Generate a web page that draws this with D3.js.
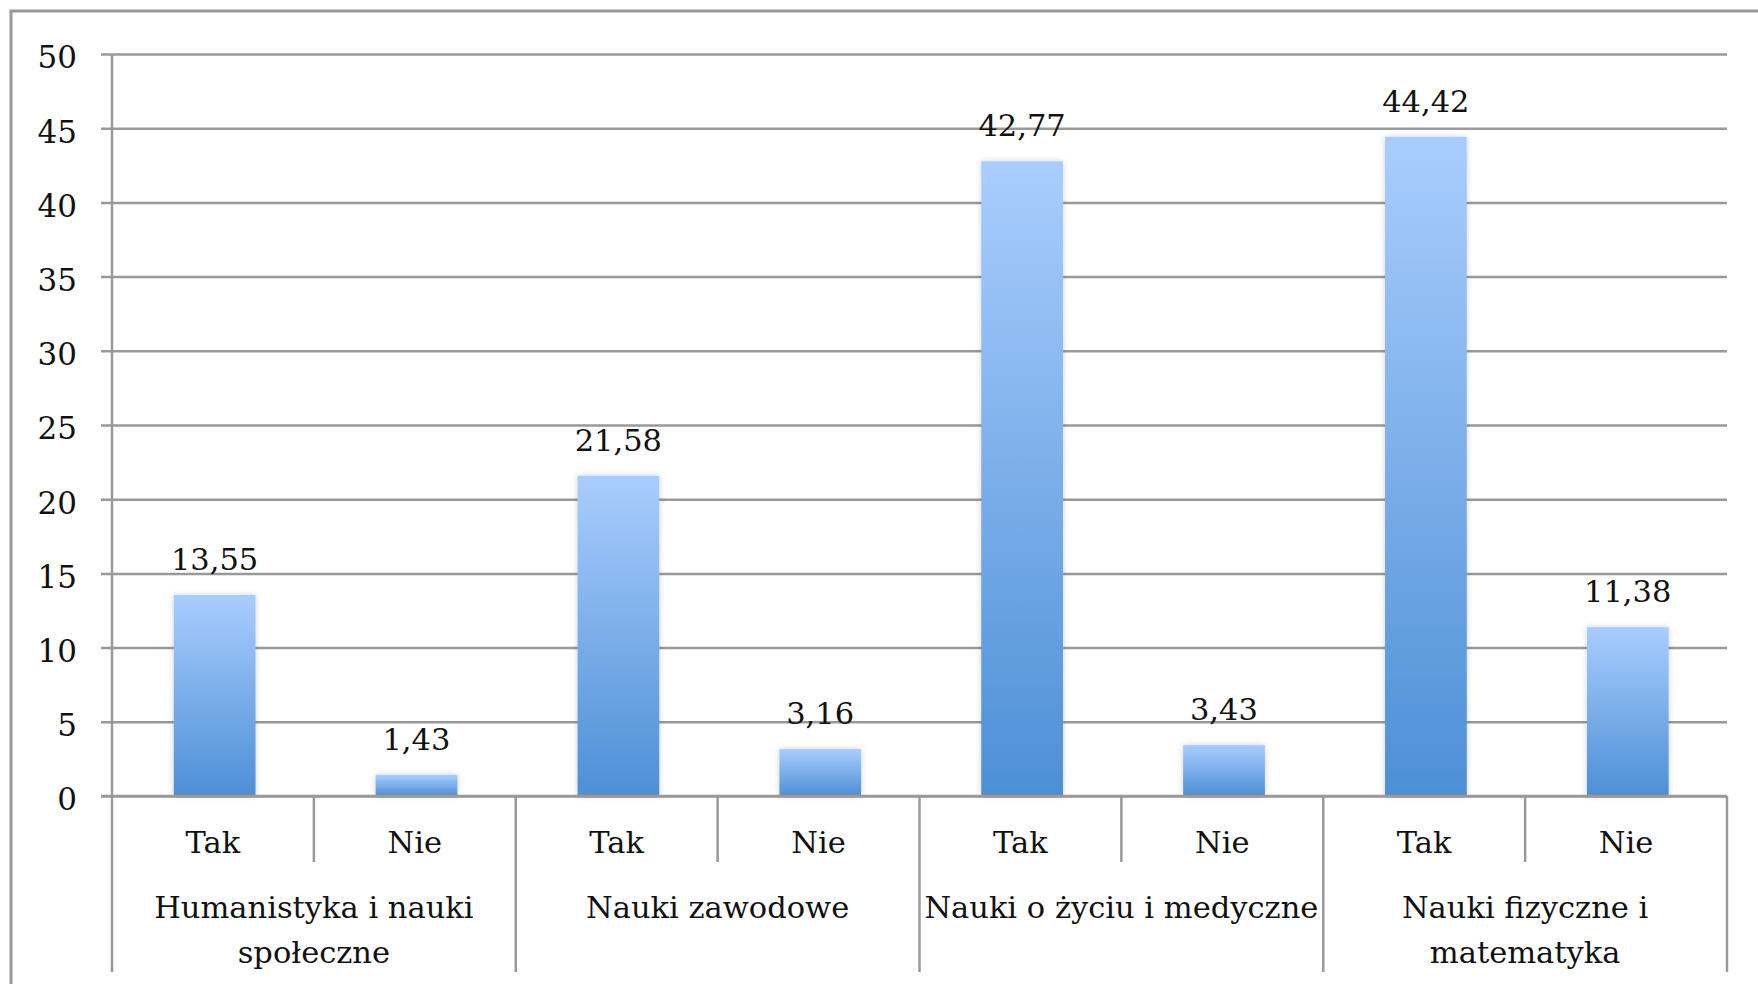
<!DOCTYPE html>
<html>
<head>
<meta charset="utf-8">
<script src="https://cdn.jsdelivr.net/npm/d3@7"></script>
<style>
    html, body { margin: 0; padding: 0; background: #fff; overflow: hidden; }
    .chart { width: 1758px; height: 984px; }
    text { font-family: 'DejaVu Serif', serif; fill: #111; }
</style>
</head>
<body>
<div class="chart"></div>
<script>
/* adatok */
const groupNames = ['Humanistyka i nauki społeczne', 'Nauki zawodowe', 'Nauki o życiu i medyczne', 'Nauki fizyczne i matematyka'];
const groupLines = [['Humanistyka i nauki', 'społeczne'], ['Nauki zawodowe'], ['Nauki o życiu i medyczne'], ['Nauki fizyczne i', 'matematyka']];
const answers = ['Tak', 'Nie'];
const takValues = [13.55, 21.58, 42.77, 44.42];
const nieValues = [1.43, 3.16, 3.43, 11.38];
const yTickValues = [0, 5, 10, 15, 20, 25, 30, 35, 40, 45, 50];

(function () {
    'use strict';

    const W = 1758, H = 984;
    const plotLeft = 112, plotRight = 1727, plotTop = 54, plotBottom = 796;
    const gridColor = '#999';
    const fontSize = 30.5;

    const svg = d3.select('.chart').append('svg')
        .attr('width', W)
        .attr('height', H);

    /* sorok: csoport + válasz */
    const rows = [];
    groupNames.forEach(function (g, i) {
        rows.push({ group: i, answer: answers[0], value: takValues[i], key: g + '|' + answers[0] });
        rows.push({ group: i, answer: answers[1], value: nieValues[i], key: g + '|' + answers[1] });
    });

    const x = d3.scaleBand().domain(rows.map(function (d) { return d.key; }))
        .range([plotLeft, plotRight]).padding(0);
    const xGroup = d3.scaleBand().domain(groupNames).range([plotLeft, plotRight]).padding(0);
    const y = d3.scaleLinear().domain([0, 50]).range([plotBottom, plotTop]);
    const bw = x.bandwidth();

    /* defs: gradient + árnyék */
    const defs = svg.append('defs');
    const grad = defs.append('linearGradient').attr('id', 'barGrad')
        .attr('x1', 0).attr('y1', 0).attr('x2', 0).attr('y2', 1);
    grad.append('stop').attr('offset', '0%').attr('stop-color', '#a9cdfd');
    grad.append('stop').attr('offset', '100%').attr('stop-color', '#4d8fd6');
    const shadow = defs.append('filter').attr('id', 'shadow')
        .attr('x', '-20%').attr('y', '-20%').attr('width', '140%').attr('height', '140%');
    shadow.append('feGaussianBlur').attr('in', 'SourceAlpha').attr('stdDeviation', 3).attr('result', 'blur');
    shadow.append('feComponentTransfer').call(function (f) {
        f.append('feFuncA').attr('type', 'linear').attr('slope', 0.18);
    });
    const merge = shadow.append('feMerge');
    merge.append('feMergeNode');
    merge.append('feMergeNode').attr('in', 'SourceGraphic');

    /* külső keret */
    svg.append('rect')
        .attr('x', 11).attr('y', 11)
        .attr('width', W + 20).attr('height', H + 20)
        .attr('fill', 'none')
        .attr('stroke', gridColor)
        .attr('stroke-width', 3);

    /* rácsvonalak */
    const grid = svg.append('g').attr('class', 'grid')
        .attr('transform', 'translate(' + plotRight + ',0)')
        .call(d3.axisLeft(y).tickValues(yTickValues).tickSize(plotRight - 101).tickFormat(''));
    grid.select('.domain').remove();
    grid.selectAll('line').attr('stroke', gridColor).attr('stroke-width', 2.5);

    /* y tengely feliratai */
    const yAxis = svg.append('g').attr('class', 'y-axis')
        .attr('transform', 'translate(' + plotLeft + ',0)')
        .call(d3.axisLeft(y).tickValues(yTickValues).tickSize(0).tickPadding(35));
    yAxis.select('.domain').remove();
    yAxis.selectAll('text')
        .attr('dy', '0.45em')
        .style('font-family', "'DejaVu Serif', serif")
        .style('font-size', '31px')
        .attr('fill', '#111');

    /* oszlopok */
    svg.append('g').attr('class', 'bars')
        .selectAll('rect').data(rows).enter().append('rect')
        .attr('x', function (d) { return x(d.key) + bw * 0.306; })
        .attr('y', function (d) { return y(d.value); })
        .attr('width', bw * 0.405)
        .attr('height', function (d) { return plotBottom - y(d.value); })
        .attr('fill', 'url(#barGrad)')
        .attr('filter', 'url(#shadow)');

    /* értékcímkék */
    svg.append('g').attr('class', 'labels')
        .selectAll('text').data(rows).enter().append('text')
        .text(function (d) { return d.value.toFixed(2).replace('.', ','); })
        .attr('x', function (d) { return x(d.key) + bw * 0.508; })
        .attr('y', function (d) { return y(d.value) - 25; })
        .attr('text-anchor', 'middle')
        .style('font-size', fontSize + 'px');

    /* x tengely: alapvonal */
    svg.append('line')
        .attr('x1', 101).attr('x2', plotRight)
        .attr('y1', plotBottom).attr('y2', plotBottom)
        .attr('stroke', gridColor).attr('stroke-width', 2.5);
    /* y tengely vonal */
    svg.append('line')
        .attr('x1', plotLeft).attr('x2', plotLeft)
        .attr('y1', plotTop).attr('y2', plotBottom)
        .attr('stroke', gridColor).attr('stroke-width', 2.5);

    /* elválasztók */
    const inner = rows.filter(function (d) { return d.answer === answers[1]; });
    svg.append('g').selectAll('line').data(inner).enter().append('line')
        .attr('x1', function (d) { return x(d.key); })
        .attr('x2', function (d) { return x(d.key); })
        .attr('y1', plotBottom).attr('y2', 862)
        .attr('stroke', gridColor).attr('stroke-width', 2.5);
    const groupEdges = groupNames.map(function (g) { return xGroup(g); }).concat([plotRight]);
    svg.append('g').selectAll('line').data(groupEdges).enter().append('line')
        .attr('x1', function (d) { return d; })
        .attr('x2', function (d) { return d; })
        .attr('y1', plotBottom).attr('y2', 972)
        .attr('stroke', gridColor).attr('stroke-width', 2.5);

    /* kategóriacímkék */
    svg.append('g').selectAll('text').data(rows).enter().append('text')
        .text(function (d) { return d.answer; })
        .attr('x', function (d) { return x(d.key) + bw / 2; })
        .attr('y', 853)
        .attr('text-anchor', 'middle')
        .style('font-size', fontSize + 'px');

    const gl = svg.append('g').selectAll('text').data(groupNames).enter().append('text')
        .attr('x', function (d) { return xGroup(d) + xGroup.bandwidth() / 2; })
        .attr('y', 918)
        .attr('text-anchor', 'middle')
        .style('font-size', fontSize + 'px');
    gl.selectAll('tspan').data(function (d, i) { return groupLines[i]; }).enter().append('tspan')
        .attr('x', function () { return d3.select(this.parentNode).attr('x'); })
        .attr('dy', function (d, i) { return i === 0 ? 0 : 45; })
        .text(function (d) { return d; });
}());
</script>
</body>
</html>
